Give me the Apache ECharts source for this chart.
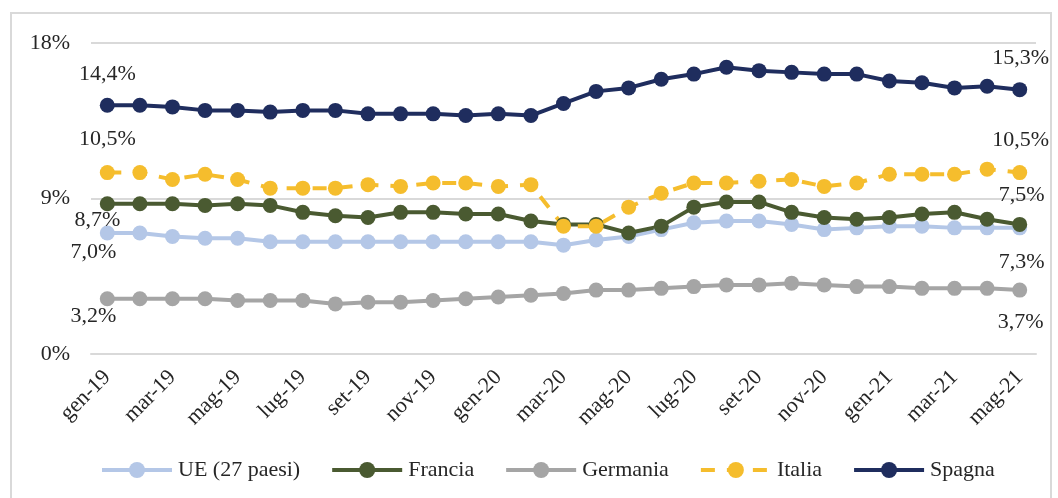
<!DOCTYPE html>
<html>
<head>
<meta charset="utf-8">
<script src="https://cdn.jsdelivr.net/npm/echarts@6/dist/echarts.min.js"></script>
<style>
    html, body {
        margin: 0;
        padding: 0;
        background: #fff;
    }

    #chart {
        width: 1058px;
        height: 498px;
    }
</style>
</head>
<body>
<div id="chart"></div>
<script>
// mesi da gen-19 a mag-21
const mesi = [
    'gen-19', 'feb-19', 'mar-19', 'apr-19', 'mag-19', 'giu-19', 'lug-19', 'ago-19', 'set-19', 'ott-19', 'nov-19', 'dic-19',
    'gen-20', 'feb-20', 'mar-20', 'apr-20', 'mag-20', 'giu-20', 'lug-20', 'ago-20', 'set-20', 'ott-20', 'nov-20', 'dic-20',
    'gen-21', 'feb-21', 'mar-21', 'apr-21', 'mag-21'
]

// tassi di disoccupazione (%)
const ue = [7.0, 7.0, 6.8, 6.7, 6.7, 6.5, 6.5, 6.5, 6.5, 6.5, 6.5, 6.5, 6.5, 6.5, 6.3, 6.6, 6.8, 7.2, 7.6, 7.7, 7.7, 7.5, 7.2, 7.3, 7.4, 7.4, 7.3, 7.3, 7.3]
const francia = [8.7, 8.7, 8.7, 8.6, 8.7, 8.6, 8.2, 8.0, 7.9, 8.2, 8.2, 8.1, 8.1, 7.7, 7.5, 7.5, 7.0, 7.4, 8.5, 8.8, 8.8, 8.2, 7.9, 7.8, 7.9, 8.1, 8.2, 7.8, 7.5]
const germania = [3.2, 3.2, 3.2, 3.2, 3.1, 3.1, 3.1, 2.9, 3.0, 3.0, 3.1, 3.2, 3.3, 3.4, 3.5, 3.7, 3.7, 3.8, 3.9, 4.0, 4.0, 4.1, 4.0, 3.9, 3.9, 3.8, 3.8, 3.8, 3.7]
const italia = [10.5, 10.5, 10.1, 10.4, 10.1, 9.6, 9.6, 9.6, 9.8, 9.7, 9.9, 9.9, 9.7, 9.8, 7.4, 7.4, 8.5, 9.3, 9.9, 9.9, 10.0, 10.1, 9.7, 9.9, 10.4, 10.4, 10.4, 10.7, 10.5]
const spagna = [14.4, 14.4, 14.3, 14.1, 14.1, 14.0, 14.1, 14.1, 13.9, 13.9, 13.9, 13.8, 13.9, 13.8, 14.5, 15.2, 15.4, 15.9, 16.2, 16.6, 16.4, 16.3, 16.2, 16.2, 15.8, 15.7, 15.4, 15.5, 15.3]

const yTicks = [0, 9, 18]

const font = "'Liberation Serif', 'DejaVu Serif', serif"
const textColor = '#262626'

const fmt = v => v.toFixed(1).replace('.', ',') + '%'

//etichette solo sul primo e sull'ultimo punto
function conEtichette(values, offStart, offEnd) {
    return values.map((v, i) => {
        if (i !== 0 && i !== values.length - 1) return v
        return {
            value: v,
            label: {
                show: true,
                position: 'inside',
                offset: i === 0 ? offStart : offEnd,
                formatter: p => fmt(p.value),
                fontFamily: font,
                fontSize: 22,
                color: textColor
            }
        }
    })
}

function serie(name, values, color, offStart, offEnd, dashed) {
    return {
        name: name,
        type: 'line',
        symbol: 'circle',
        symbolSize: 15,
        itemStyle: {color: color},
        lineStyle: {color: color, width: 4, type: dashed ? [14, 12] : 'solid'},
        label: {show: false},
        emphasis: {disabled: true},
        data: conEtichette(values, offStart, offEnd)
    }
}

const chart = echarts.init(document.getElementById('chart'), null, {renderer: 'canvas'})

const option = {
    animation: false,
    backgroundColor: '#fff',
    textStyle: {fontFamily: font},
    graphic: [
        {
            type: 'rect',
            shape: {x: 11, y: 13, width: 1040, height: 500},
            style: {fill: 'none', stroke: '#D9D9D9', lineWidth: 2},
            silent: true
        }
    ],
    grid: {
        left: 91,
        right: 22,
        top: 43,
        bottom: 144
    },
    legend: {
        left: 95,
        top: 454,
        itemWidth: 70,
        itemHeight: 20,
        itemGap: 30,
        lineStyle: {width: 4},
        textStyle: {fontFamily: font, fontSize: 22, color: textColor, padding: [0, 0, 0, 1]},
        data: ['UE (27 paesi)', 'Francia', 'Germania', 'Italia', 'Spagna']
    },
    xAxis: {
        type: 'category',
        data: mesi,
        boundaryGap: true,
        axisLine: {lineStyle: {color: '#D9D9D9', width: 2}},
        axisTick: {show: false},
        axisLabel: {
            interval: 1,
            rotate: 45,
            margin: 20,
            fontFamily: font,
            fontSize: 22,
            color: textColor
        }
    },
    yAxis: {
        type: 'value',
        min: yTicks[0],
        max: yTicks[yTicks.length - 1],
        interval: yTicks[1] - yTicks[0],
        axisLine: {show: false},
        axisTick: {show: false},
        axisLabel: {
            formatter: '{value}%',
            margin: 21,
            fontFamily: font,
            fontSize: 22,
            color: textColor
        },
        splitLine: {lineStyle: {color: '#D9D9D9', width: 2}}
    },
    series: [
        serie('UE (27 paesi)', ue, '#B4C7E7', [-14, 19], [2, 34]),
        serie('Francia', francia, '#4A5A31', [-10, 17], [2, -29]),
        serie('Germania', germania, '#A5A5A5', [-14, 18], [1, 32]),
        serie('Italia', italia, '#F5BD2D', [0, -33], [1, -32], true),
        serie('Spagna', spagna, '#1F2D5E', [0, -31], [1, -31])
    ]
}

chart.setOption(option)
</script>
</body>
</html>
